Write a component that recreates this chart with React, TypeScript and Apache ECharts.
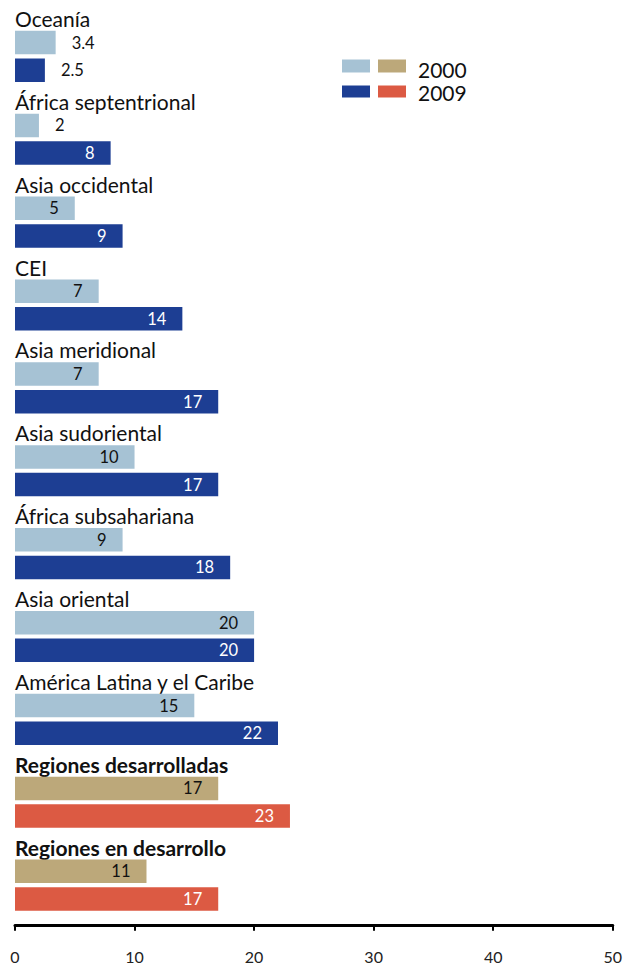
import React, { useEffect, useRef } from "react";
import * as echarts from "echarts";

const regions = [
  "Oceanía",
  "África septentrional",
  "Asia occidental",
  "CEI",
  "Asia meridional",
  "Asia sudoriental",
  "África subsahariana",
  "Asia oriental",
  "América Latina y el Caribe",
  "Regiones desarrolladas",
  "Regiones en desarrollo",
];
const values2000 = [3.4, 2, 5, 7, 7, 10, 9, 20, 15, 17, 11];
const values2009 = [2.5, 8, 9, 14, 17, 17, 18, 20, 22, 23, 17];
const aggregate = [false, false, false, false, false, false, false, false, false, true, true];
const years = ["2000", "2009"];
const xTicks = [0, 10, 20, 30, 40, 50];

const C_LIGHT = "#a6c2d4";
const C_DARK = "#1d3e93";
const C_TAN = "#bca87a";
const C_RED = "#dc5a43";
const FONT = "Lato";

export default function App() {
  const ref = useRef<HTMLDivElement>(null);
  useEffect(() => {
    if (!ref.current) return;
    const chart = echarts.init(ref.current, null, { renderer: "svg" });

    const rows: string[] = [];
    const labelText: string[] = [];
    const data: any[] = [];
    regions.forEach((r, i) => {
      rows.push(r);
      labelText.push(aggregate[i] ? `{b|${r}}` : `{n|${r}}`);
      data.push("-");
      const pair = [values2000[i], values2009[i]];
      pair.forEach((v, k) => {
        rows.push(`${r}|${years[k]}`);
        labelText.push("");
        const color = aggregate[i] ? (k === 0 ? C_TAN : C_RED) : k === 0 ? C_LIGHT : C_DARK;
        const small = v < 4;
        data.push({
          value: v,
          itemStyle: { color },
          label: {
            show: true,
            position: small ? "right" : "insideRight",
            distance: 16,
            color: small || k === 0 ? "#111111" : "#ffffff",
          },
        });
      });
    });

    chart.setOption({
      animation: false,
      textStyle: { fontFamily: FONT },
      grid: { left: 15, right: 11, top: 1.1, bottom: 53.2, containLabel: false },
      xAxis: {
        type: "value",
        min: 0,
        max: 50,
        interval: 10,
        offset: 12,
        axisLine: { show: true, lineStyle: { color: "#000", width: 3 } },
        axisTick: { show: true, length: 6, lineStyle: { color: "#000", width: 2 } },
        splitLine: { show: false },
        axisLabel: {
          margin: 24,
          fontSize: 16,
          color: "#222",
          fontFamily: FONT,
          formatter: (v: number) => (xTicks.includes(v) ? String(v) : ""),
        },
      },
      yAxis: {
        type: "category",
        data: rows,
        inverse: true,
        axisLine: { show: false },
        axisTick: { show: false },
        axisLabel: {
          inside: true,
          margin: 0,
          align: "left",
          padding: [7, 0, 0, 0],
          formatter: (_v: string, idx: number) => labelText[idx],
          rich: {
            n: { fontSize: 21, color: "#111111", fontFamily: FONT },
            b: { fontSize: 21, color: "#111111", fontWeight: "bold", fontFamily: FONT },
          },
        },
      },
      series: [
        {
          type: "bar",
          data,
          barWidth: 23.5,
          label: { fontSize: 16.5, fontFamily: FONT },
        },
      ],
      graphic: [
        { type: "rect", shape: { x: 342, y: 59.5, width: 28, height: 13 }, style: { fill: C_LIGHT } },
        { type: "rect", shape: { x: 378, y: 59.5, width: 28, height: 13 }, style: { fill: C_TAN } },
        { type: "rect", shape: { x: 342, y: 85.5, width: 28, height: 12 }, style: { fill: C_DARK } },
        { type: "rect", shape: { x: 378, y: 85.5, width: 28, height: 12 }, style: { fill: C_RED } },
        {
          type: "text",
          x: 418,
          y: 69,
          style: { text: years[0], fontSize: 21, fontFamily: FONT, fill: "#111111", verticalAlign: "middle" },
        },
        {
          type: "text",
          x: 418,
          y: 92,
          style: { text: years[1], fontSize: 21, fontFamily: FONT, fill: "#111111", verticalAlign: "middle" },
        },
      ],
    });
    return () => chart.dispose();
  }, []);
  return (
    <div
      ref={ref}
      style={{ position: "absolute", left: 0, top: 0, width: 625, height: 966, background: "#fff" }}
    />
  );
}
